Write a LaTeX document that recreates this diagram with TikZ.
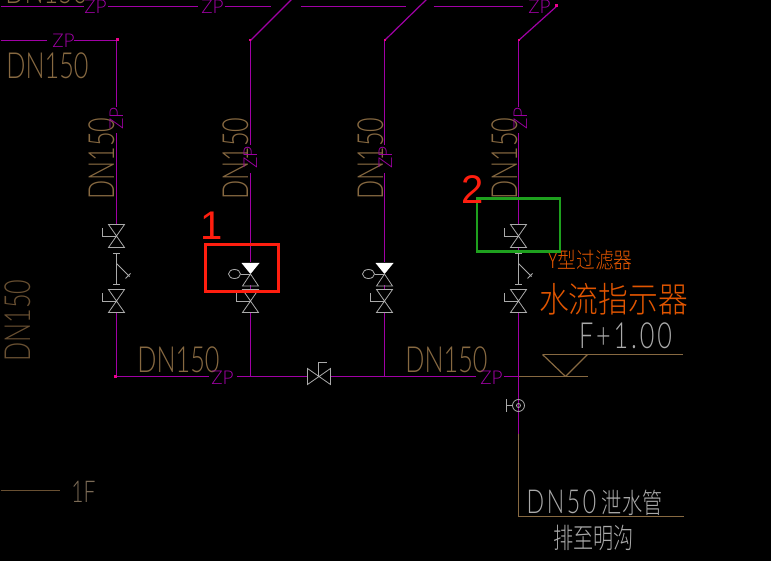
\documentclass[tikz,border=0pt]{standalone}
\usepackage{fontspec}
\setmainfont{Lato Light}
\newfontfamily\cadfont[FakeStretch=0.7]{Lato Light}
\newfontfamily\spacefont[FakeStretch=0.7,LetterSpace=8]{Lato Light}
\newfontfamily\widefont{Lato Light}
\newfontfamily\redfont{Liberation Sans}
\newfontfamily\cjknarrow[FakeStretch=0.85]{Noto Sans CJK SC Light}
\newfontfamily\cjkthin[FakeStretch=0.72]{Noto Sans CJK SC Light}
\definecolor{pipecol}{RGB}{160,0,165}
\definecolor{tancol}{RGB}{135,105,65}
\definecolor{dimcol}{RGB}{105,80,50}
\definecolor{greycol}{RGB}{170,170,170}
\definecolor{orangecol}{RGB}{225,85,0}
\definecolor{redcol}{RGB}{255,30,15}
\definecolor{greencol}{RGB}{30,160,30}
\tikzset{
  pipe/.style={draw=pipecol,line width=1.2pt},
  brownline/.style={draw=tancol,line width=1.2pt},
  dntext/.style={text=tancol,inner sep=0pt,font=\cadfont\fontsize{36}{36}\selectfont},
  zptext/.style={text=pipecol,inner sep=0pt,font=\widefont\fontsize{19}{19}\selectfont},
  endmark/.style={fill=magenta,inner sep=0pt,minimum size=3pt},
  pics/stopvalve/.style={code={
    \draw[greycol,line width=.8pt] (-8,-12) -- (8,-12) -- (-8,11) -- (8,11) -- cycle;
    \draw[greycol,line width=.8pt] (0,0) -- (-14,0) -- (-14,-8);
  }},
  pics/signalvalve/.style={code={
    \fill[white] (-9,-11) -- (9,-11) -- (0,0) -- cycle;
    \draw[greycol,line width=.8pt] (0,0) -- (-8,12) -- (8,12) -- cycle;
    \draw[greycol,line width=.8pt] (0,0) -- (-10,0);
    \draw[greycol,line width=.8pt] (-16,0) ellipse (6 and 4.5);
  }},
  pics/strainer/.style={code={
    \draw[greycol,line width=.8pt] (-3.5,0) -- (3.5,0) (0,0) -- (0,31) (-3.5,31) -- (3.5,31);
    \draw[greycol,line width=.8pt] (0,10) -- (13,23) (9,25) -- (14,20);
  }},
}
\begin{document}
\begin{tikzpicture}[x=1pt,y=-1pt]
  \fill[black] (0,0) rectangle (771,561);
  \clip (0,0) rectangle (771,561);
  \begin{scope}[shift={(.5,.5)}]
  % points on the pipes
  \draw
    (0,6) coordinate (t0)
    (83,6) coordinate (t1)
    (107,6) coordinate (t2)
    (197,6) coordinate (t3)
    (224,6) coordinate (t4)
    (270,6) coordinate (t5)
    (300,6) coordinate (t6)
    (405,6) coordinate (t7)
    (433,6) coordinate (t8)
    (522,6) coordinate (t9)
    (291,-1) coordinate (d2)
    (426,-1) coordinate (d3)
    (557,5) coordinate (d4)
    (0,40) coordinate (s0)
    (46,40) coordinate (s1)
    (73,40) coordinate (s2)
    (116,40) coordinate (a0)
    (116,107) coordinate (a1)
    (116,133) coordinate (a2)
    (116,224) coordinate (a3)
    (116,312) coordinate (a4)
    (116,376) coordinate (a5)
    (250,40) coordinate (b0)
    (250,145) coordinate (b1)
    (250,173) coordinate (b2)
    (250,262) coordinate (b3)
    (250,285) coordinate (b4)
    (250,290) coordinate (b5)
    (250,312) coordinate (b6)
    (250,376) coordinate (b7)
    (384,40) coordinate (c0)
    (384,145) coordinate (c1)
    (384,173) coordinate (c2)
    (384,262) coordinate (c3)
    (384,285) coordinate (c4)
    (384,290) coordinate (c5)
    (384,312) coordinate (c6)
    (384,376) coordinate (c7)
    (518,40) coordinate (e0)
    (518,107) coordinate (e1)
    (518,133) coordinate (e2)
    (518,224) coordinate (e3)
    (518,247) coordinate (e4)
    (518,253) coordinate (e5)
    (518,312) coordinate (e6)
    (518,376) coordinate (e7)
    (518,433) coordinate (e8)
    (518,516) coordinate (e9)
    (683,516) coordinate (e10)
    (208,376) coordinate (m1)
    (236,376) coordinate (m2)
    (307,376) coordinate (m3)
    (329,376) coordinate (m4)
    (475,376) coordinate (m5)
    (503,376) coordinate (m6)
    (587,376) coordinate (m7)
    (542,354) coordinate (f1)
    (587,354) coordinate (f2)
    (565,376) coordinate (f3)
    (682,354) coordinate (f4)
    (0,490) coordinate (g1)
    (59,490) coordinate (g2);
  \begin{scope}[pipe]
    \draw (t0) to (t1);
    \draw (t2) to (t3);
    \draw (t4) to (t5);
    \draw (t6) to (t7);
    \draw (t8) to (t9);
    \draw (b0) to (d2);
    \draw (c0) to (d3);
    \draw (e0) to (d4);
    \draw (s0) to (s1);
    \draw (s2) to (a0);
    \draw (a0) to (a1);
    \draw (a2) to (a3);
    \draw (a4) to (a5);
    \draw (b0) to (b1);
    \draw (b2) to (b3);
    \draw (b4) to (b5);
    \draw (b6) to (b7);
    \draw (c0) to (c1);
    \draw (c2) to (c3);
    \draw (c4) to (c5);
    \draw (c6) to (c7);
    \draw (e0) to (e1);
    \draw (e2) to (e3);
    \draw (e4) to (e5);
    \draw (e6) to (e8);
    \draw (a5) to (m1);
    \draw (m2) to (m3);
    \draw (m4) to (m5);
    \draw (m6) to (e7);
  \end{scope}
  \begin{scope}[brownline]
    \draw (e7) to (m7);
    \draw (e8) to (e9);
    \draw (e9) to (e10);
    \draw (f1) to (f2);
    \draw (f2) to (f3);
    \draw (f3) to (f1);
    \draw (f2) to (f4);
    \draw[dimcol] (g1) to (g2);
  \end{scope}
  % valves
  \pic (v1) at (116,236) {stopvalve};
  \pic (v2) at (116,301) {stopvalve};
  \pic (v3) at (250,273.5) {signalvalve};
  \pic (v4) at (250,301) {stopvalve};
  \pic (v5) at (384,273.5) {signalvalve};
  \pic (v6) at (384,301) {stopvalve};
  \pic (v7) at (518,236) {stopvalve};
  \pic (v8) at (518,301) {stopvalve};
  \pic[rotate=-90] (v9) at (318,376) {stopvalve};
  \pic (y1) at (116,253) {strainer};
  \pic (y2) at (518,253) {strainer};
  % drain valve
  \draw[greycol,line width=.8pt]
    (518,405) node[draw=greycol,circle,inner sep=0pt,minimum size=12pt] (dr1) {}
    (518,405) node[draw=greycol,circle,inner sep=0pt,minimum size=4pt] (dr2) {}
    (506,405) coordinate (dr3)
    (506,398.5) coordinate (dr4)
    (506,411) coordinate (dr5);
  \draw[greycol,line width=.8pt] (dr1) to (dr3);
  \draw[greycol,line width=.8pt] (dr4) to (dr5);
  % end marks
  \draw
    (117,39) node[endmark] (p1) {}
    (115,376) node[endmark] (p2) {}
    (249,40) node[endmark,minimum size=2pt] (p3) {}
    (384,40) node[endmark,minimum size=2pt] (p4) {}
    (518,40) node[endmark,minimum size=2pt] (p5) {}
    (556,5) node[endmark] (p6) {};
  % labels
  \draw
    (47,65) node[dntext] (n1) {DN150}
    (46,-10) node[dntext] (n2) {DN150}
    (101,158) node[dntext,rotate=90] (n3) {DN150}
    (235,158) node[dntext,rotate=90] (n4) {DN150}
    (370,158) node[dntext,rotate=90] (n5) {DN150}
    (504,158) node[dntext,rotate=90] (n6) {DN150}
    (17,320) node[dntext,rotate=90,text=dimcol] (n7) {DN150}
    (178,359) node[dntext] (n8) {DN150}
    (446,359) node[dntext] (n9) {DN150};
  \draw
    (95,6) node[zptext] (z1) {ZP}
    (212,6) node[zptext] (z2) {ZP}
    (539,6) node[zptext] (z3) {ZP}
    (63,40) node[zptext] (z4) {ZP}
    (116,118) node[zptext,rotate=90] (z5) {ZP}
    (250,157) node[zptext,rotate=90] (z6) {ZP}
    (385,157) node[zptext,rotate=90] (z7) {ZP}
    (520,118) node[zptext,rotate=90] (z8) {ZP}
    (222,377) node[zptext] (z9) {ZP}
    (491,377) node[zptext] (z10) {ZP};
  \draw
    (590,260) node[text=orangecol,inner sep=0pt,font=\cjknarrow\fontsize{22}{22}\selectfont] (l1) {Y型过滤器}
    (613,299) node[text=orangecol,inner sep=0pt,font=\cjknarrow\fontsize{35}{35}\selectfont] (l2) {水流指示器}
    (625,335) node[text=greycol,inner sep=0pt,font=\spacefont\fontsize{36}{36}\selectfont] (l3) {F+1.00}
    (594,502) node[text=greycol,inner sep=0pt,font=\spacefont\fontsize{33}{33}\selectfont] (l4) {DN50\,{\cjkthin\fontsize{28}{28}\selectfont 泄水管}}
    (593,537) node[text=greycol,inner sep=0pt,font=\cjkthin\fontsize{28}{28}\selectfont] (l5) {排至明沟}
    (83,491) node[text=dimcol!70!greycol,inner sep=0pt,font=\cadfont\fontsize{30}{30}\selectfont] (l6) {1F};
  % marked boxes
  \node[draw=redcol,line width=2.6pt,minimum width=73pt,minimum height=47pt,inner sep=0pt] (box1) at (241.5,267.5) {};
  \node[draw=greencol,line width=2.6pt,minimum width=83pt,minimum height=53pt,inner sep=0pt] (box2) at (518,224.5) {};
  \draw
    (211,225) node[text=redcol,inner sep=0pt,font=\redfont\fontsize{40}{40}\selectfont] (r1) {1}
    (472,189) node[text=redcol,inner sep=0pt,font=\redfont\fontsize{40}{40}\selectfont] (r2) {2};
  \end{scope}
\end{tikzpicture}
\end{document}
